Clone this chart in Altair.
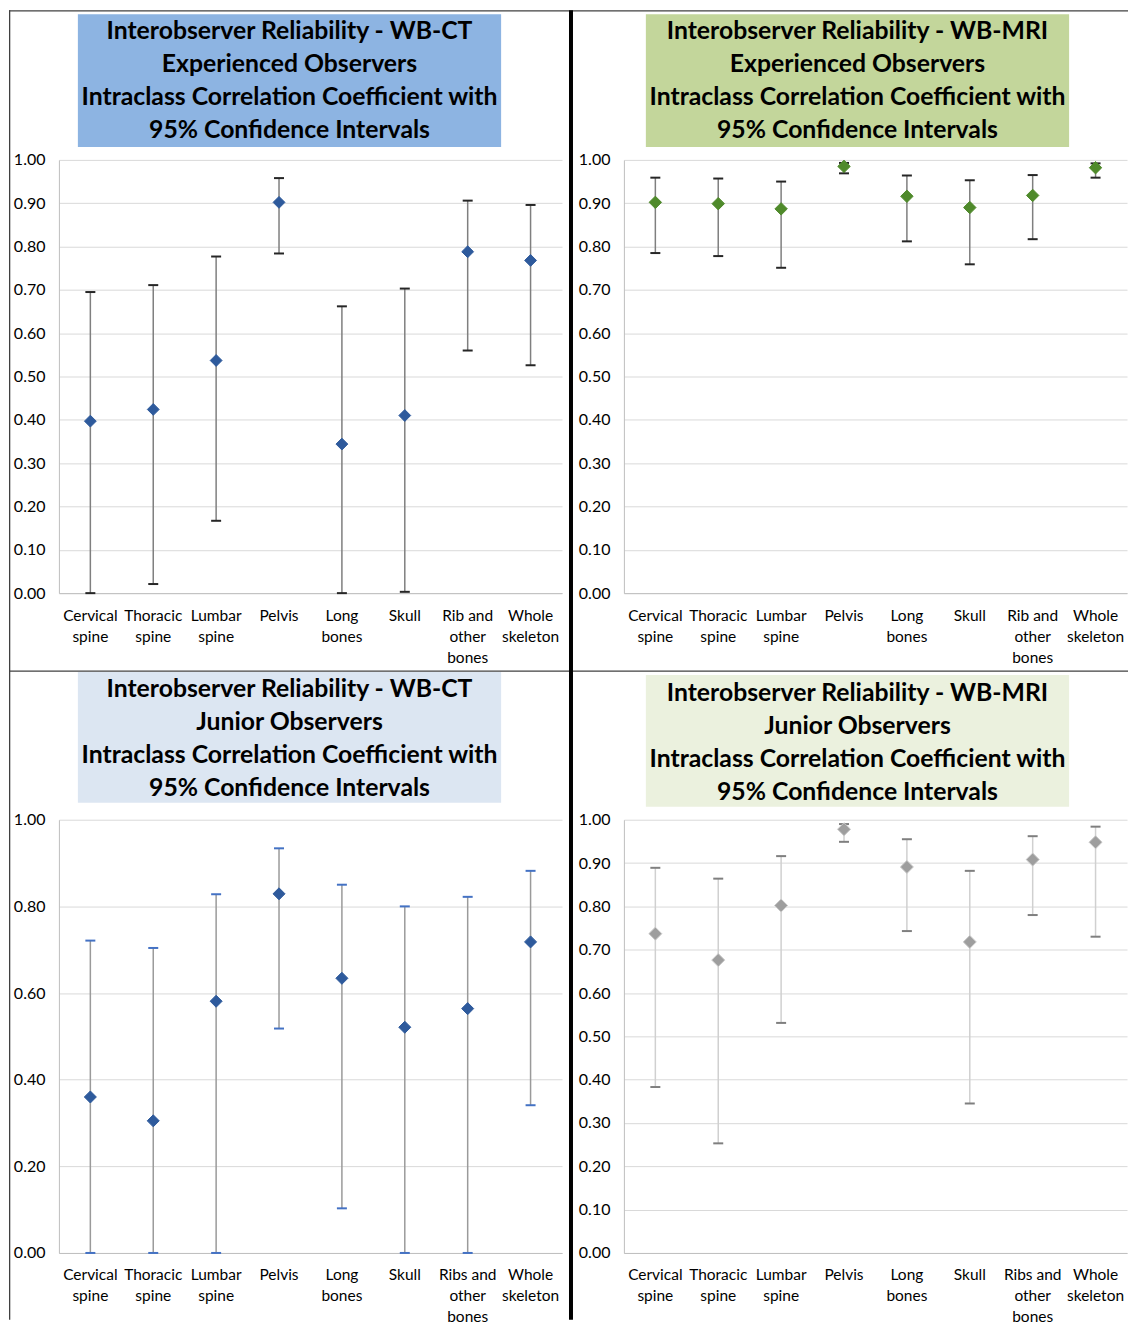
import altair as alt
import pandas as pd

FONT = "Lato"

# ---- categories (| marks a line break in the axis label) ----
categories_top = ["Cervical|spine", "Thoracic|spine", "Lumbar|spine", "Pelvis",
                  "Long|bones", "Skull", "Rib and|other|bones", "Whole|skeleton"]
categories_bottom = ["Cervical|spine", "Thoracic|spine", "Lumbar|spine", "Pelvis",
                     "Long|bones", "Skull", "Ribs and|other|bones", "Whole|skeleton"]

# ---- WB-CT, experienced observers ----
ct_exp_icc = [0.397, 0.424, 0.537, 0.902, 0.344, 0.410, 0.788, 0.768]
ct_exp_lo = [0.000, 0.021, 0.167, 0.784, 0.000, 0.003, 0.560, 0.526]
ct_exp_hi = [0.695, 0.711, 0.777, 0.958, 0.662, 0.703, 0.906, 0.896]

# ---- WB-MRI, experienced observers ----
mri_exp_icc = [0.902, 0.899, 0.887, 0.985, 0.916, 0.890, 0.918, 0.982]
mri_exp_lo = [0.785, 0.778, 0.751, 0.969, 0.812, 0.759, 0.817, 0.959]
mri_exp_hi = [0.959, 0.957, 0.950, 0.993, 0.964, 0.953, 0.965, 0.992]

# ---- WB-CT, junior observers ----
ct_jun_icc = [0.360, 0.305, 0.581, 0.829, 0.634, 0.521, 0.564, 0.718]
ct_jun_lo = [0.000, 0.000, 0.000, 0.518, 0.103, 0.000, 0.000, 0.341]
ct_jun_hi = [0.721, 0.704, 0.828, 0.934, 0.850, 0.800, 0.822, 0.882]

# ---- WB-MRI, junior observers ----
mri_jun_icc = [0.737, 0.676, 0.802, 0.978, 0.891, 0.718, 0.908, 0.948]
mri_jun_lo = [0.383, 0.253, 0.531, 0.949, 0.743, 0.345, 0.780, 0.730]
mri_jun_hi = [0.889, 0.864, 0.916, 0.990, 0.955, 0.882, 0.962, 0.984]

ticks_tenth = [0.0, 0.1, 0.2, 0.3, 0.4, 0.5, 0.6, 0.7, 0.8, 0.9, 1.0]
ticks_fifth = [0.0, 0.2, 0.4, 0.6, 0.8, 1.0]

titles = {
    "ct_exp": ["Interobserver Reliability - WB-CT", "Experienced Observers",
               "Intraclass Correlation Coefficient with", "95% Confidence Intervals"],
    "mri_exp": ["Interobserver Reliability - WB-MRI", "Experienced Observers",
                "Intraclass Correlation Coefficient with", "95% Confidence Intervals"],
    "ct_jun": ["Interobserver Reliability - WB-CT", "Junior Observers",
               "Intraclass Correlation Coefficient with", "95% Confidence Intervals"],
    "mri_jun": ["Interobserver Reliability - WB-MRI", "Junior Observers",
                "Intraclass Correlation Coefficient with", "95% Confidence Intervals"],
}

one = pd.DataFrame({"k": [0]})
W = 504
H = 434


def panel(cats, icc, lo, hi, ticks, title_lines, box, text_c, fill,
          marker_fill, marker_stroke, marker_size, bar_color, cap_color, extra=None):
    df = pd.DataFrame({"cat": cats, "icc": icc, "lo": lo, "hi": hi})
    xax = alt.Axis(title=None, labelAngle=0, labelExpr="split(datum.label, '|')",
                   labelFont=FONT, labelFontSize=15.5, labelLineHeight=21,
                   labelPadding=15, labelColor="#000000", ticks=False, tickSize=0,
                   domainColor="#BFBFBF", domainWidth=1)
    x = alt.X("cat:N", sort=cats, axis=xax,
              scale=alt.Scale(paddingInner=0, paddingOuter=0))
    yax = alt.Axis(title=None, values=ticks, format=".2f", grid=True,
                   gridColor="#D9D9D9", gridWidth=1, ticks=False, tickSize=0,
                   labelPadding=14, labelFont=FONT, labelFontSize=16,
                   labelColor="#000000", domainColor="#BFBFBF", domainWidth=1)
    ysc = alt.Scale(domain=[0, 1], nice=False, zero=True)

    bars = alt.Chart(df).mark_rule(color=bar_color, strokeWidth=1.5).encode(
        x=x, y=alt.Y("lo:Q", scale=ysc, axis=yax), y2="hi:Q")
    cap_lo = alt.Chart(df).mark_tick(color=cap_color, size=10, thickness=2, opacity=1).encode(
        x=x, y=alt.Y("lo:Q", scale=ysc, axis=yax))
    cap_hi = alt.Chart(df).mark_tick(color=cap_color, size=10, thickness=2, opacity=1).encode(
        x=x, y=alt.Y("hi:Q", scale=ysc, axis=yax))
    pts = alt.Chart(df).mark_point(shape="diamond", filled=True, size=marker_size,
                                   fill=marker_fill, stroke=marker_stroke,
                                   strokeWidth=1, opacity=1).encode(
        x=x, y=alt.Y("icc:Q", scale=ysc, axis=yax))

    rect = alt.Chart(one).mark_rect(fill=fill).encode(
        x=alt.value(box[0]), x2=alt.value(box[1]),
        y=alt.value(box[2]), y2=alt.value(box[3]))
    txt = alt.Chart(one).mark_text(font=FONT, fontSize=24.8, fontWeight="bold",
                                   lineHeight=33, baseline="middle", align="center",
                                   color="#000000").encode(
        x=alt.value(text_c[0]), y=alt.value(text_c[1]), text=alt.value(title_lines))
    layers = [rect, txt, bars, cap_lo, cap_hi, pts]
    if extra:
        layers = extra + layers
    return alt.layer(*layers).properties(width=W, height=H)


def frame_bar(x0, x1, y0, y1, color):
    return alt.Chart(one).mark_rect(fill=color, strokeWidth=0).encode(
        x=alt.value(x0), x2=alt.value(x1), y=alt.value(y0), y2=alt.value(y1))


# frame lines (drawn in the first panel's pixel space)
frame = [
    frame_bar(-50, 1071, -150, -148.7, "#404040"),   # top
    frame_bar(-50, -48.7, -150, 1162, "#404040"),    # left
    frame_bar(-50, 1071, 511.5, 512.8, "#404040"),   # middle horizontal
    frame_bar(511, 515, -150, 1162, "#000000"),      # middle vertical (thick)
]

p1 = panel(categories_top, ct_exp_icc, ct_exp_lo, ct_exp_hi, ticks_tenth,
           titles["ct_exp"], (19, 443, -146, -13), (231, -128), "#8DB4E2",
           "#2E5A9C", "#2E5A9C", 140, "#7F7F7F", "#262626", extra=frame)
p2 = panel(categories_top, mri_exp_icc, mri_exp_lo, mri_exp_hi, ticks_tenth,
           titles["mri_exp"], (22, 446, -146, -13), (234, -128), "#C3D69B",
           "#4F8A2B", "#4F8A2B", 155, "#7F7F7F", "#262626")
p3 = panel(categories_bottom, ct_jun_icc, ct_jun_lo, ct_jun_hi, ticks_fifth,
           titles["ct_jun"], (19, 443, -148, -17), (231, -130), "#DCE6F2",
           "#2E5A9C", "#2E5A9C", 145, "#9A9A9A", "#4472C4")
p4 = panel(categories_bottom, mri_jun_icc, mri_jun_lo, mri_jun_hi, ticks_tenth,
           titles["mri_jun"], (22, 446, -145, -13), (234, -126), "#EBF1DE",
           "#9E9E9E", "#C9C9C9", 170, "#D0D0D0", "#7F7F7F")

chart = alt.concat(
    p1, p2, p3, p4, columns=2,
    spacing=alt.RowColnumber(row=227, column=62), bounds="flush",
).properties(padding=0, background="#FFFFFF").configure_view(stroke="transparent")

chart.save("out.html", embed_options={"renderer": "svg", "actions": False})
